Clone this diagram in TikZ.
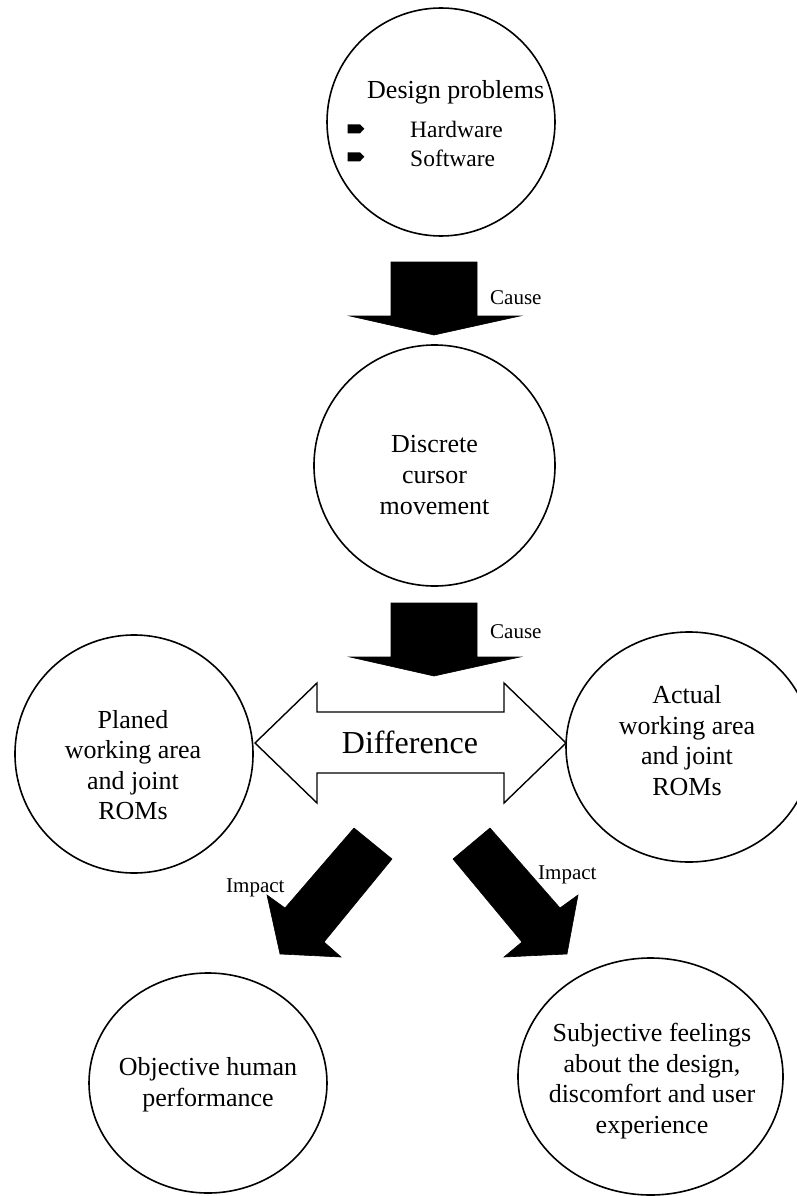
\documentclass[tikz,border=0pt]{standalone}
\usepackage{fontspec}
\setmainfont{Liberation Serif}
\usetikzlibrary{shapes.geometric}
\begin{document}
\begin{tikzpicture}[x=1pt,y=-1pt,
  bubble/.style={ellipse,draw,line width=1.6pt,inner sep=0pt},
  body/.style={anchor=base,inner sep=0pt,font=\fontsize{26}{31}\selectfont},
  bodyl/.style={anchor=base west,inner sep=0pt,font=\fontsize{26}{31}\selectfont},
  item/.style={anchor=base west,inner sep=0pt,font=\fontsize{23.5}{28}\selectfont},
  tag/.style={anchor=base west,inner sep=0pt,font=\fontsize{21}{25}\selectfont},
  solidarrow/.style={fill=black,draw=black,line width=0.6pt,line join=miter},
  openarrow/.style={fill=white,draw=black,line width=1.4pt,line join=miter},
  bulletarrow/.style={fill=black}
]
\useasboundingbox (0,0) rectangle (797,1196);

% the six bubbles
\node[bubble,minimum width=228pt,minimum height=228pt] (prob) at (441,122) {};
\node[bubble,minimum width=241pt,minimum height=241pt] (disc) at (434.5,465.5) {};
\node[bubble,minimum width=238pt,minimum height=238pt] (plan) at (134,754) {};
\node[bubble,minimum width=246pt,minimum height=230pt] (act) at (689,747) {};
\node[bubble,minimum width=238pt,minimum height=220pt] (obj) at (208,1083) {};
\node[bubble,minimum width=265pt,minimum height=237pt] (subj) at (650.5,1076.5) {};

% design problems
\node[bodyl] (prob-t) at (367,99) {Design problems};
\fill[bulletarrow] (347.7,124.3) -- (360,124.3) -- (364.3,128.8) -- (360,133.3) -- (347.7,133.3) -- cycle;
\fill[bulletarrow] (347.7,152.3) -- (360,152.3) -- (364.3,156.8) -- (360,161.3) -- (347.7,161.3) -- cycle;
\node[item] (hw) at (410,138) {Hardware};
\node[item] (sw) at (410,166) {Software};

% cause arrows
\draw[solidarrow] (391,262) -- (477,262) -- (477,316) -- (520,316) -- (434,335)
  -- (350,316) -- (391,316) -- cycle;
\node[tag] (cause1) at (490,304) {Cause};
\draw[solidarrow] (391,603) -- (477,603) -- (477,657) -- (520,657) -- (434,676)
  -- (350,657) -- (391,657) -- cycle;
\node[tag] (cause2) at (490,638) {Cause};

% discrete cursor movement
\node[body] (disc-1) at (434.5,452) {Discrete};
\node[body] (disc-2) at (434.5,483) {cursor};
\node[body] (disc-3) at (434.5,514) {movement};

% difference double arrow
\draw[openarrow] (255,743) -- (317,683) -- (317,712) -- (504,712) -- (504,683)
  -- (566,743) -- (504,803) -- (504,773) -- (317,773) -- (317,803) -- cycle;
\node[anchor=base,inner sep=0pt,font=\fontsize{32}{38}\selectfont] (diff) at (410,753) {Difference};

% planned working area
\node[body] (plan-1) at (133,728) {Planed};
\node[body] (plan-2) at (133,758.5) {working area};
\node[body] (plan-3) at (133,789) {and joint};
\node[body] (plan-4) at (133,819.5) {ROMs};

% actual working area
\node[body] (act-1) at (687,703.5) {Actual};
\node[body] (act-2) at (687,734) {working area};
\node[body] (act-3) at (687,764.5) {and joint};
\node[body] (act-4) at (687,795) {ROMs};

% impact arrows
\draw[solidarrow] (354,828) -- (392,859) -- (324,942) -- (341,957) -- (280,954)
  -- (267,895) -- (285,908) -- cycle;
\node[tag] (imp1) at (226,892) {Impact};
\draw[solidarrow] (490,828) -- (453,859) -- (522,942) -- (504,957) -- (567,954)
  -- (578,895) -- (560,908) -- cycle;
\node[tag] (imp2) at (538,879) {Impact};

% consequences
\node[body] (obj-1) at (208,1075) {Objective human};
\node[body] (obj-2) at (208,1106) {performance};

\node[body] (subj-1) at (652,1041.5) {Subjective feelings};
\node[body] (subj-2) at (652,1072) {about the design,};
\node[body] (subj-3) at (652,1102.5) {discomfort and user};
\node[body] (subj-4) at (652,1133) {experience};
\end{tikzpicture}
\end{document}
